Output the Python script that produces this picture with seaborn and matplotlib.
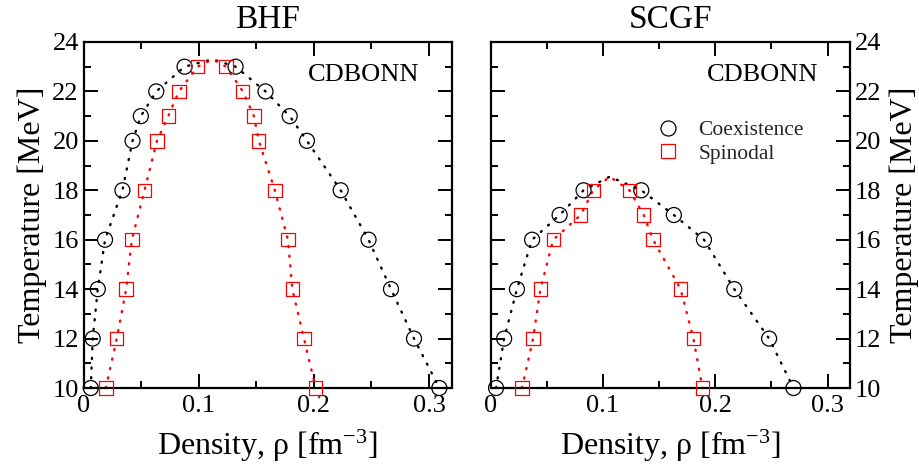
import matplotlib
matplotlib.use("Agg")
import matplotlib.pyplot as plt
import seaborn as sns
import pandas as pd
from matplotlib.lines import Line2D

sns.set_theme(style="ticks")
plt.rcParams['font.family'] = ['Liberation Serif', 'DejaVu Serif']
plt.rcParams['mathtext.fontset'] = 'custom'
plt.rcParams['mathtext.rm'] = 'Liberation Serif'
plt.rcParams['mathtext.it'] = 'Liberation Serif:italic'

# ---------------- data ----------------
panels = ["BHF", "SCGF"]

# BHF
bhf_T = [10, 12, 14, 16, 18, 20, 21, 22, 23]
bhf_coex_low = [0.0062, 0.0079, 0.0123, 0.0186, 0.0337, 0.0425, 0.0497, 0.0631, 0.0877]
bhf_coex_high = [0.309, 0.287, 0.267, 0.2475, 0.2233, 0.194, 0.179, 0.158, 0.132]
bhf_spin_low = [0.0193, 0.0288, 0.0369, 0.0419, 0.0529, 0.0637, 0.0735, 0.0828, 0.099]
bhf_spin_high = [0.2016, 0.1914, 0.1813, 0.1775, 0.1661, 0.1522, 0.1479, 0.1383, 0.1238]
bhf_crit_rho = 0.112
bhf_crit_T = 23.3

# SCGF
scgf_T = [10, 12, 14, 16, 17, 18]
scgf_coex_low = [0.0049, 0.0121, 0.0235, 0.037, 0.0615, 0.0828]
scgf_coex_high = [0.2697, 0.248, 0.217, 0.190, 0.1632, 0.1342]
scgf_spin_low = [0.028, 0.0379, 0.0444, 0.0558, 0.0803, 0.0914]
scgf_spin_high = [0.1887, 0.1806, 0.1692, 0.1447, 0.1363, 0.1237]
scgf_crit_rho = 0.106
scgf_crit_T = 18.55

x_ticks = [0, 0.1, 0.2, 0.3]
x_tick_labels = ["0", "0.1", "0.2", "0.3"]
y_ticks = [10, 12, 14, 16, 18, 20, 22, 24]
series_names = ["Coexistence", "Spinodal"]
series_colors = {"Coexistence": "black", "Spinodal": "#ff0000"}
series_markers = {"Coexistence": "o", "Spinodal": "s"}
marker_sizes = {"Coexistence": 10.8, "Spinodal": 9.6}


def build_frames(T, coex_lo, coex_hi, spin_lo, spin_hi, rc, Tc):
    pts = []
    curves = []
    for name, lo, hi in [("Coexistence", coex_lo, coex_hi), ("Spinodal", spin_lo, spin_hi)]:
        for t, r in zip(T, lo):
            pts.append((name, r, t))
        for t, r in zip(T, hi):
            pts.append((name, r, t))
        seq = list(zip(lo, T)) + [(rc, Tc)] + list(zip(hi, T))[::-1]
        for i, (r, t) in enumerate(seq):
            curves.append((name, i, r, t))
    dpts = pd.DataFrame(pts, columns=["series", "rho", "T"])
    dcur = pd.DataFrame(curves, columns=["series", "order", "rho", "T"])
    return dpts, dcur


data = {
    "BHF": build_frames(bhf_T, bhf_coex_low, bhf_coex_high, bhf_spin_low, bhf_spin_high, bhf_crit_rho, bhf_crit_T),
    "SCGF": build_frames(scgf_T, scgf_coex_low, scgf_coex_high, scgf_spin_low, scgf_spin_high, scgf_crit_rho, scgf_crit_T),
}

fig = plt.figure(figsize=(9.2, 4.68), dpi=100)
axL = fig.add_axes([0.0909, 0.1709, 0.4004, 0.7394])
axR = fig.add_axes([0.5332, 0.1709, 0.3907, 0.7394])

for ax, name in zip([axL, axR], panels):
    dpts, dcur = data[name]
    for s in series_names:
        c = dcur[dcur.series == s]
        sns.lineplot(data=c, x="rho", y="T", sort=False, estimator=None, ax=ax,
                     color=series_colors[s], linestyle=(0, (0.5, 3.6)), linewidth=1.7,
                     dash_capstyle='round', legend=False)
        p = dpts[dpts.series == s]
        ax.scatter(p["rho"], p["T"], marker=series_markers[s], s=marker_sizes[s] ** 2,
                   facecolors='none', edgecolors=series_colors[s], linewidths=0.9, clip_on=False, zorder=3)
    ax.set_xlim(0, 0.32)
    ax.set_ylim(10, 24)
    ax.set_xticks(x_ticks)
    ax.set_xticklabels(x_tick_labels)
    ax.set_xticks([0.05, 0.15, 0.25], minor=True)
    ax.set_yticks(y_ticks)
    ax.set_yticks([11, 13, 15, 17, 19, 21, 23], minor=True)
    ax.tick_params(which='both', direction='in', top=True, bottom=True, left=True, right=True,
                   labelsize=19, width=1.4, color='black', labelcolor='black')
    ax.tick_params(which='major', length=10)
    ax.tick_params(which='minor', length=5)
    ax.tick_params(axis='x', pad=5)
    for sp in ax.spines.values():
        sp.set_linewidth(1.6)
        sp.set_color('black')
    ax.set_xlabel(r"Density, ρ [fm$^{\mathrm{-3}}$]", fontsize=23, labelpad=8, color='black')
    ax.set_ylabel("Temperature [MeV]", fontsize=23, color='black')
    ax.set_title(name, fontsize=24, pad=10, color='black')
    ax.text(0.912, 0.905, "CDBONN", transform=ax.transAxes, ha='right', va='center', fontsize=19, color='black')

axR.yaxis.set_label_position('right')
axR.tick_params(axis='y', labelleft=False, labelright=True)
axL.yaxis.labelpad = 4
axR.yaxis.labelpad = 6

handles = [Line2D([], [], linestyle='none', marker=series_markers[s], markersize=marker_sizes[s],
                  markerfacecolor='none', markeredgecolor=series_colors[s], markeredgewidth=0.9)
           for s in series_names]
axR.legend(handles, series_names, loc='upper left', bbox_to_anchor=(0.464, 0.774), frameon=False,
           fontsize=15.5, handlelength=1.0, handletextpad=0.9, labelspacing=0.15, borderpad=0,
           borderaxespad=0)

fig.savefig("out.png", dpi=100)
